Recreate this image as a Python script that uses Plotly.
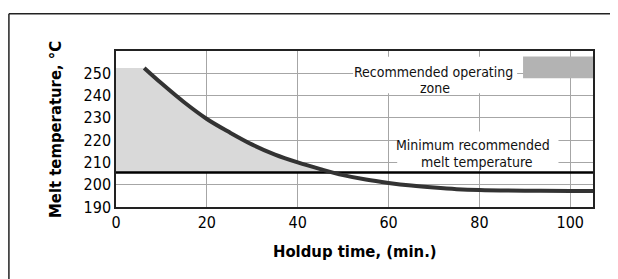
import numpy as np
import plotly.graph_objects as go

# ---- data ----
holdup_min = [6.2, 10, 15, 20, 25, 30, 35, 40, 45, 50, 55, 60, 65, 70, 75, 80, 90, 100, 105]
melt_temp_c = [252.4, 245.5, 237, 229.5, 223.5, 218, 213.5, 210, 207, 204.3, 202.3, 200.8,
               199.6, 198.7, 198.0, 197.6, 197.3, 197.2, 197.2]
min_recommended_temp = 205.5
x_ticks = [0, 20, 40, 60, 80, 100]
y_ticks = [190, 200, 210, 220, 230, 240, 250]
x_range = [0, 105]
y_range = [190, 260]
legend_zone_x = [89.6, 105]
legend_zone_y = [247.8, 257.5]

FONT = "Liberation Sans Narrow, Arial Narrow, DejaVu Sans Condensed, sans-serif"

# shaded "recommended operating zone": between curve and min line, from x=0
xs = np.array(holdup_min)
ys = np.array(melt_temp_c)
cross_x = float(np.interp(min_recommended_temp, ys[::-1], xs[::-1]))
keep = ys >= min_recommended_temp
shade_x = [x_range[0]] + list(xs[keep]) + [cross_x, x_range[0]]
shade_y = [melt_temp_c[0]] + list(ys[keep]) + [min_recommended_temp, min_recommended_temp]

fig = go.Figure()
fig.add_trace(go.Scatter(x=shade_x, y=shade_y, fill="toself", fillcolor="#d9d9d9",
                         line=dict(width=0), mode="lines", hoverinfo="skip", showlegend=False))
fig.add_trace(go.Scatter(x=x_range, y=[min_recommended_temp, min_recommended_temp],
                         mode="lines", line=dict(color="#000000", width=2.6), showlegend=False))
fig.add_trace(go.Scatter(x=holdup_min, y=melt_temp_c, mode="lines",
                         line=dict(color="#333333", width=4, shape="spline"), showlegend=False))

shapes = []
# white masks behind the two labels
shapes.append(dict(type="rect", xref="x", yref="y", x0=52.2, x1=88.3, y0=241.0, y1=257.4,
                   fillcolor="white", line=dict(width=0), layer="between"))
shapes.append(dict(type="rect", xref="x", yref="y", x0=61.9, x1=97.4, y0=206.6, y1=223.9,
                   fillcolor="white", line=dict(width=0), layer="between"))
# legend swatch
shapes.append(dict(type="rect", xref="x", yref="y", x0=legend_zone_x[0], x1=legend_zone_x[1],
                   y0=legend_zone_y[0], y1=legend_zone_y[1], fillcolor="#b3b3b3",
                   line=dict(width=0), layer="above"))
# outer frame (top and left edges)
shapes.append(dict(type="line", xref="paper", yref="paper", x0=-0.2245, x1=1.2, y0=1.238, y1=1.238,
                   line=dict(color="#222222", width=1.5)))
shapes.append(dict(type="line", xref="paper", yref="paper", x0=-0.2245, x1=-0.2245, y0=1.238, y1=-0.6,
                   line=dict(color="#222222", width=1.5)))

LBL = dict(family=FONT, size=14, color="#111111")
annotations = [
    dict(x=69.8, y=250.7, xref="x", yref="y", text="Recommended operating", showarrow=False,
         font=LBL, xanchor="center", yanchor="middle"),
    dict(x=70.3, y=243.2, xref="x", yref="y", text="zone", showarrow=False,
         font=LBL, xanchor="center", yanchor="middle"),
    dict(x=78.6, y=217.6, xref="x", yref="y", text="Minimum recommended", showarrow=False,
         font=LBL, xanchor="center", yanchor="middle"),
    dict(x=79.4, y=210.3, xref="x", yref="y", text="melt temperature", showarrow=False,
         font=LBL, xanchor="center", yanchor="middle"),
    dict(x=0.5, y=-0.284, xref="paper", yref="paper", text="<b>Holdup time, (min.)</b>",
         showarrow=False, font=dict(family=FONT, size=16.5, color="#000000"),
         xanchor="center", yanchor="middle"),
    dict(x=-0.128, y=0.5, xref="paper", yref="paper", text="<b>Melt temperature, °C</b>",
         showarrow=False, textangle=-90, font=dict(family=FONT, size=16.5, color="#000000"),
         xanchor="center", yanchor="middle"),
]

fig.update_layout(
    width=618, height=279,
    margin=dict(l=108, r=33, t=43, b=80, pad=0),
    paper_bgcolor="white", plot_bgcolor="white",
    showlegend=False,
    shapes=shapes, annotations=annotations,
    font=dict(family=FONT, size=16, color="#000000"),
)
fig.update_xaxes(range=x_range, tickvals=x_ticks, showgrid=True, gridcolor="#a6a6a6", gridwidth=1,
                 showline=True, linecolor="#222222", linewidth=1.5, mirror=True, zeroline=False,
                 ticks="", tickfont=dict(family=FONT, size=16, color="#000000"))
fig.update_yaxes(range=y_range, tickvals=y_ticks, showgrid=True, gridcolor="#a6a6a6", gridwidth=1,
                 showline=True, linecolor="#222222", linewidth=1.5, mirror=True, zeroline=False,
                 ticks="", tickfont=dict(family=FONT, size=16, color="#000000"))

fig.write_html("out.html")
